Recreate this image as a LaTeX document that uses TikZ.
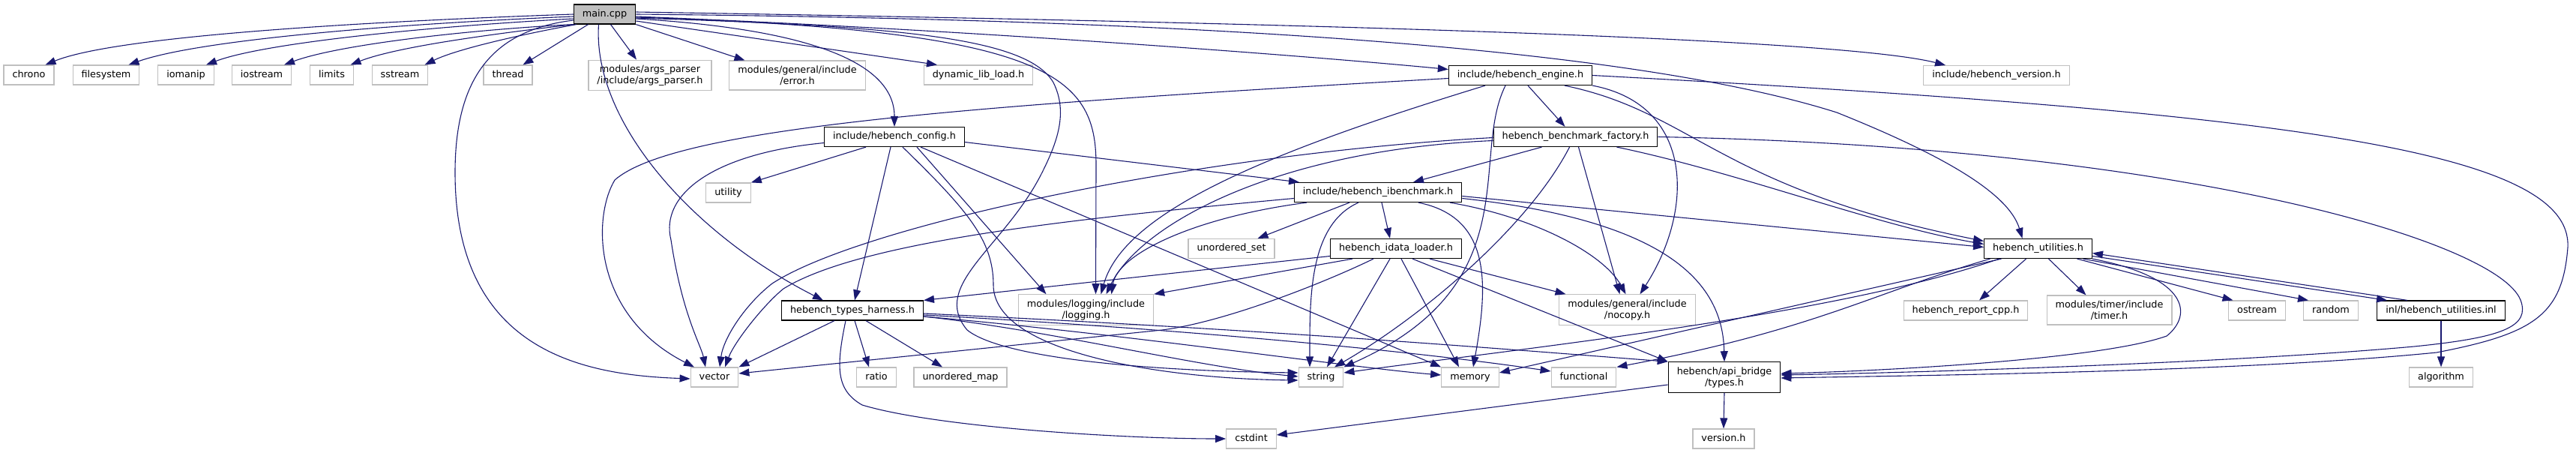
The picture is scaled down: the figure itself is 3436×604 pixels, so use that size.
\documentclass[tikz,border=0pt]{standalone}
\usepackage{fontspec}
\newfontfamily\dejavu{DejaVu Sans}
\usetikzlibrary{arrows.meta}
\definecolor{edgeblue}{HTML}{191970}
\definecolor{boxgray}{HTML}{BFBFBF}
\tikzset{
  hdrbase/.style={rectangle, fill=white, line width=1.2pt, inner xsep=11.5pt, inner ysep=6.5pt,
    font=\dejavu\fontsize{12.8pt}{15pt}\selectfont},
  syshdr/.style={hdrbase, draw=boxgray, minimum height=26pt, text height=9.6pt, text depth=3pt},
  syshdrtwo/.style={hdrbase, draw=boxgray, align=center},
  dochdr/.style={hdrbase, draw=black, minimum height=26pt, text height=9.6pt, text depth=3pt},
  dochdrtwo/.style={hdrbase, draw=black, align=center},
  roothdr/.style={dochdr, fill=boxgray},
  incl/.style={draw=edgeblue, line width=1.1pt, -{Triangle[length=14pt,width=10pt]}},
}
\begin{document}
\begin{tikzpicture}[x=1pt,y=-1pt]
  \useasboundingbox (0,0) rectangle (3436,604);
  % headers, row by row
  \node[roothdr] (main) at (806.5,19) {main.cpp};
  \foreach \nm/\xx in {chrono/38.5, filesystem/141.5, iomanip/248, iostream/349,
                       limits/442.5, sstream/533.5, thread/677.5}
    \node[syshdr] (\nm) at (\xx,100) {\nm};
  \node[syshdrtwo] (argsparser) at (867,100.5) {modules/args\_parser\\/include/args\_parser.h};
  \node[syshdrtwo] (errorh) at (1063.5,100.5) {modules/general/include\\/error.h};
  \node[syshdr] (dynlib) at (1305,100) {dynamic\_lib\_load.h};
  \node[dochdr] (engine) at (2028,100.5) {include/hebench\_engine.h};
  \node[syshdr] (versionh) at (2663,100.5) {include/hebench\_version.h};
  \node[dochdr] (config) at (1193,182.5) {include/hebench\_config.h};
  \node[dochdr] (factory) at (2101.5,182.5) {hebench\_benchmark\_factory.h};
  \node[dochdr] (ibench) at (1838,256.5) {include/hebench\_ibenchmark.h};
  \node[syshdr] (utility) at (971.5,257) {utility};
  \node[syshdr] (uset) at (1642.5,331.5) {unordered\_set};
  \node[dochdr] (idata) at (1862,331.5) {hebench\_idata\_loader.h};
  \node[dochdr] (utils) at (2718.5,331.5) {hebench\_utilities.h};
  \node[dochdr] (harness) at (1137,414) {hebench\_types\_harness.h};
  \node[syshdrtwo] (logging) at (1448.5,413) {modules/logging/include\\/logging.h};
  \node[syshdrtwo] (nocopy) at (2170.5,413) {modules/general/include\\/nocopy.h};
  \node[syshdr] (reportcpp) at (2622,414) {hebench\_report\_cpp.h};
  \node[syshdrtwo] (timerh) at (2813.5,413.5) {modules/timer/include\\/timer.h};
  \node[syshdr] (ostream) at (3010.5,414) {ostream};
  \node[syshdr] (random) at (3109,414) {random};
  \node[dochdr] (inl) at (3256,414) {inl/hebench\_utilities.inl};
  \foreach \nm/\xx in {vector/953, ratio/1169, string/1762, memory/1961, functional/2112.5}
    \node[syshdr] (\nm) at (\xx,503) {\nm};
  \node[syshdr] (umap) at (1281,503) {unordered\_map};
  \node[dochdrtwo] (apitypes) at (2300,503) {hebench/api\_bridge\\/types.h};
  \node[syshdr] (algorithm) at (3256,503) {algorithm};
  \node[syshdr] (cstdint) at (1669,585) {cstdint};
  \node[syshdr] (apiversion) at (2299,585) {version.h};

  % main.cpp
  \draw[incl] (main.west) .. controls (450,30) and (150,50) .. ([xshift=22pt]chrono.north);
  \draw[incl] ([yshift=-3pt]main.west) .. controls (500,33) and (260,55) .. ([xshift=30pt]filesystem.north);
  \draw[incl] ([yshift=-6pt]main.west) .. controls (560,36) and (350,58) .. ([xshift=27pt]iomanip.north);
  \draw[incl] (main.south west) .. controls (620,40) and (450,60) .. ([xshift=30pt]iostream.north);
  \draw[incl] (main.south west) .. controls (660,45) and (530,62) .. ([xshift=25pt]limits.north);
  \draw[incl] ([xshift=4pt]main.south west) .. controls (700,45) and (610,65) .. ([xshift=33pt]sstream.north);
  \draw[incl] ([xshift=-22pt]main.south) -- ([xshift=20pt]thread.north);
  \draw[incl] ([xshift=8pt]main.south) -- ([xshift=-18pt]argsparser.north);
  \draw[incl] (main.south east) -- ([xshift=-70pt]errorh.north);
  \draw[incl] ([yshift=-9pt]main.east) -- ([xshift=-55pt]dynlib.north);
  \draw[incl] ([yshift=-6pt]main.east) .. controls (1100,40) and (1193,90) .. (config.north);
  \draw[incl] ([yshift=-3pt]main.east) .. controls (1300,40) and (1750,75) .. ([yshift=8pt]engine.west);
  \draw[incl] ([yshift=3pt]main.east) .. controls (1700,30) and (2450,50) .. ([xshift=-68pt]versionh.north);
  \draw[incl] (main.east) .. controls (1500,25) and (2150,55) .. (2450,150)
    .. controls (2600,210) and (2680,260) .. ([xshift=-21pt]utils.north);
  \draw[incl] ([yshift=-4pt]main.east) .. controls (1400,40) and (1462,100) .. (1462,220)
    -- ([xshift=13pt]logging.north);
  \draw[incl] ([yshift=-5pt]main.east) .. controls (1200,35) and (1370,50) .. (1405,110)
    .. controls (1425,150) and (1410,190) .. (1390,230)
    .. controls (1340,330) and (1240,380) .. (1290,440)
    .. controls (1340,480) and (1550,495) .. ([yshift=6pt]string.west);
  \draw[incl] ([yshift=-8pt]main.west) .. controls (660,40) and (607,100) .. (607,230)
    .. controls (607,470) and (780,500) .. ([yshift=-2pt]vector.west);
  \draw[incl] ([xshift=-8pt]main.south) .. controls (790,160) and (920,310) .. ([xshift=-39pt]harness.north);

  % include/hebench_engine.h
  \draw[incl] ([yshift=-4pt]engine.west) .. controls (1300,140) and (900,170) .. (820,240)
    .. controls (790,290) and (790,420) .. ([xshift=-27pt]vector.north);
  \draw[incl] ([xshift=-47pt]engine.south) .. controls (1700,200) and (1500,280) .. ([xshift=20pt]logging.north);
  \draw[incl] ([xshift=-20pt]engine.south) .. controls (1960,210) and (2040,380) .. (string.north east);
  \draw[incl] ([xshift=10pt]engine.south) -- ([xshift=-14pt]factory.north);
  \draw[incl] ([xshift=59pt]engine.south) .. controls (2260,150) and (2290,250) .. ([yshift=10pt]utils.west);
  \draw[incl] (engine.south east) .. controls (2260,140) and (2260,280) .. ([xshift=17pt]nocopy.north);
  \draw[incl] (engine.east) .. controls (3050,150) and (3432,200) .. (3425,330)
    .. controls (3418,420) and (3380,445) .. (3250,470)
    .. controls (3000,495) and (2600,500) .. ([yshift=-1pt]apitypes.east);

  % include/hebench_config.h
  \draw[incl] ([yshift=-8pt]config.west) .. controls (950,205) and (880,260) .. (895,320)
    .. controls (910,420) and (935,460) .. ([xshift=-12pt]vector.north);
  \draw[incl] ([xshift=-38pt]config.south) -- (utility.north east);
  \draw[incl] ([xshift=-5pt]config.south) -- ([xshift=3pt]harness.north);
  \draw[incl] ([xshift=11pt]config.south) .. controls (1290,280) and (1325,320) .. (1325,380)
    .. controls (1325,470) and (1550,505) .. ([yshift=-4pt]string.west);
  \draw[incl] ([xshift=30pt]config.south) -- ([xshift=-53pt]logging.north);
  \draw[incl] ([xshift=35pt]config.south) -- (memory.north west);
  \draw[incl] ([yshift=-7pt]config.east) -- ([xshift=-105pt]ibench.north);

  % hebench_benchmark_factory.h
  \draw[incl] ([yshift=-1pt]factory.west) .. controls (1600,205) and (1150,300) .. (1030,378)
    .. controls (995,405) and (965,450) .. ([xshift=7pt]vector.north);
  \draw[incl] ([yshift=-5pt]factory.west) .. controls (1700,200) and (1520,300) .. ([xshift=27pt]logging.north);
  \draw[incl] ([xshift=-45pt]factory.south) -- ([xshift=47pt]ibench.north);
  \draw[incl] ([xshift=-8pt]factory.south) .. controls (2040,300) and (1900,420) .. ([xshift=18pt]string.north);
  \draw[incl] ([xshift=4pt]factory.south) -- ([xshift=-10pt]nocopy.north);
  \draw[incl] ([xshift=55pt]factory.south) .. controls (2320,230) and (2500,300) .. ([yshift=6pt]utils.west);
  \draw[incl] (factory.east) .. controls (2900,195) and (3330,320) .. (3362,400)
    .. controls (3375,435) and (3340,450) .. (3220,462)
    .. controls (3000,482) and (2600,496) .. ([yshift=3pt]apitypes.east);

  % include/hebench_ibenchmark.h
  \draw[incl] ([yshift=-8pt]ibench.west) .. controls (1450,290) and (1150,320) .. (1045,385)
    .. controls (1020,405) and (980,455) .. ([xshift=14pt]vector.north);
  \draw[incl] ([xshift=-95pt]ibench.south) .. controls (1590,290) and (1490,340) .. ([xshift=34pt]logging.north);
  \draw[incl] ([xshift=-38pt]ibench.south) -- ([xshift=35pt]uset.north);
  \draw[incl] ([xshift=-26pt]ibench.south) .. controls (1745,300) and (1747,400) .. ([xshift=-15pt]string.north);
  \draw[incl] ([xshift=5pt]ibench.south) -- ([xshift=-8pt]idata.north);
  \draw[incl] ([xshift=54pt]ibench.south) .. controls (1990,290) and (1985,380) .. ([xshift=4pt]memory.north);
  \draw[incl] ([xshift=96pt]ibench.south) .. controls (2050,290) and (2140,340) .. ([xshift=-2pt]nocopy.north);
  \draw[incl] ([yshift=-5pt]ibench.east) -- ([yshift=2pt]utils.west);
  \draw[incl] ([yshift=-8pt]ibench.east) .. controls (2230,295) and (2298,380) .. (apitypes.north);

  % hebench_idata_loader.h
  \draw[incl] ([yshift=-10pt]idata.west) -- (harness.north east);
  \draw[incl] ([xshift=-58pt]idata.south) -- (logging.north east);
  \draw[incl] ([xshift=-30pt]idata.south) .. controls (1760,380) and (1630,430) .. (1550,440)
    -- ([yshift=5pt]vector.east);
  \draw[incl] ([xshift=-8pt]idata.south) -- ([xshift=8pt]string.north);
  \draw[incl] ([xshift=7pt]idata.south) -- ([xshift=-15pt]memory.north);
  \draw[incl] ([xshift=22pt]idata.south) -- (apitypes.north west);
  \draw[incl] ([xshift=45pt]idata.south) -- ([xshift=-82pt]nocopy.north);

  % hebench_types_harness.h
  \draw[incl] ([xshift=-24pt]harness.south) -- (vector.north east);
  \draw[incl] ([xshift=3pt]harness.south) -- ([xshift=-10pt]ratio.north);
  \draw[incl] ([xshift=18pt]harness.south) -- ([xshift=-24pt]umap.north);
  \draw[incl] ([xshift=-9pt]harness.south) .. controls (1115,490) and (1115,520) .. (1150,540)
    .. controls (1250,570) and (1500,585) .. (cstdint.west);
  \draw[incl] ([yshift=-8pt]harness.east) .. controls (1400,440) and (1600,490) .. ([yshift=1pt]string.west);
  \draw[incl] ([yshift=-8pt]harness.east) .. controls (1500,445) and (1800,490) .. ([yshift=3pt]memory.west);
  \draw[incl] ([yshift=-6pt]harness.east) .. controls (1600,440) and (1900,470) .. ([yshift=8pt]functional.west);
  \draw[incl] ([yshift=-4pt]harness.east) .. controls (1700,440) and (2000,465) .. (apitypes.north west);

  % hebench_utilities.h and its .inl
  \draw[incl] ([xshift=-52pt]utils.south) .. controls (2450,420) and (2050,462) .. ([yshift=6pt]string.east);
  \draw[incl] ([xshift=-49pt]utils.south) -- ([yshift=6pt]memory.east);
  \draw[incl] ([xshift=-64pt]utils.south) .. controls (2500,390) and (2420,440) .. (functional.north east);
  \draw[incl] (utils.south east) .. controls (2920,370) and (2925,420) .. (2890,448)
    .. controls (2800,480) and (2500,495) .. ([yshift=5pt]apitypes.east);
  \draw[incl] ([xshift=-16pt]utils.south) -- ([xshift=18pt]reportcpp.north);
  \draw[incl] ([xshift=14pt]utils.south) -- ([xshift=-31pt]timerh.north);
  \draw[incl] ([xshift=52pt]utils.south) -- ([xshift=-32pt]ostream.north);
  \draw[incl] ([xshift=60pt]utils.south) -- ([xshift=-30pt]random.north);
  \draw[incl] ([yshift=-10pt]utils.east) -- ([xshift=-72pt]inl.north);
  \draw[incl] ([xshift=-45pt]inl.north) -- ([yshift=-6pt]utils.east);
  \draw[incl] (inl.south) -- (algorithm.north);

  % hebench/api_bridge/types.h
  \draw[incl] ([yshift=-10pt]apitypes.west) -- ([yshift=5pt]cstdint.east);
  \draw[incl] (apitypes.south) -- (apiversion.north);
\end{tikzpicture}
\end{document}
